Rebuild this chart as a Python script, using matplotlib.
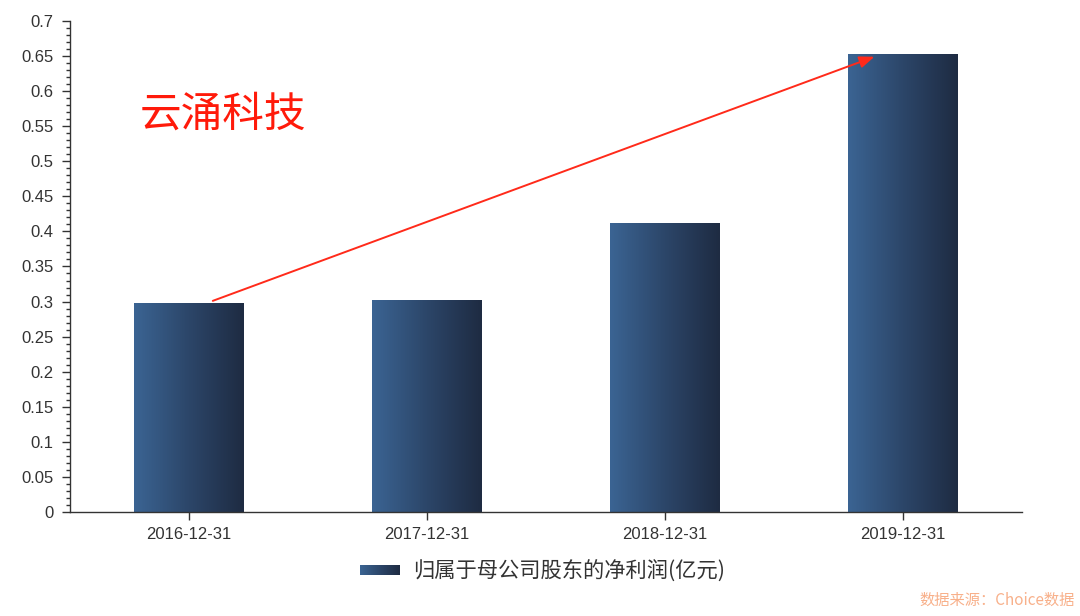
import numpy as np
import matplotlib
matplotlib.use("Agg")
import matplotlib.pyplot as plt
from matplotlib.colors import LinearSegmentedColormap
from matplotlib.ticker import MultipleLocator

plt.rcParams["font.family"] = ["Liberation Sans", "Noto Sans CJK SC", "DejaVu Sans"]

## data ##
dates = ["2016-12-31", "2017-12-31", "2018-12-31", "2019-12-31"]
profit = [0.297, 0.301, 0.411, 0.652]  # 归属于母公司股东的净利润(亿元)
series_name = "归属于母公司股东的净利润(亿元)"
company = "云涌科技"
source = "数据来源：Choice数据"

bar_w = 0.46
grad = LinearSegmentedColormap.from_list("bar", ["#3b6493", "#2c4669", "#1e2b42"])
gradient = np.linspace(0, 1, 256).reshape(1, -1)

fig = plt.figure(figsize=(10.8, 6.16), dpi=100)
ax = fig.add_axes([0.0648, 0.1688, 0.8815, 0.7972])

x = np.arange(len(dates))
bars = ax.bar(x, profit, width=bar_w, color="none", edgecolor="none", zorder=2)
for b in bars:
    x0, y0 = b.get_x(), b.get_y()
    ax.imshow(gradient, cmap=grad, aspect="auto", zorder=2, interpolation="bilinear",
              extent=(x0, x0 + b.get_width(), y0, y0 + b.get_height()))

ax.set_xlim(-0.5, len(dates) - 0.5)
ax.set_ylim(0, 0.7)
ax.set_xticks(x)
ax.set_xticklabels(dates)
ax.yaxis.set_major_locator(MultipleLocator(0.05))
ax.yaxis.set_minor_locator(MultipleLocator(0.01))
ax.set_yticklabels(["0" if abs(v) < 1e-9 else ("%g" % round(v, 2)) for v in ax.get_yticks()])
ax.tick_params(axis="y", which="major", length=6, width=1, color="#333333",
               labelsize=12, labelcolor="#333333", pad=6)
ax.tick_params(axis="y", which="minor", length=3, width=1, color="#333333")
ax.tick_params(axis="x", length=6, width=1, color="#333333",
               labelsize=12, labelcolor="#333333", pad=5)
for s in ["top", "right"]:
    ax.spines[s].set_visible(False)
for s in ["left", "bottom"]:
    ax.spines[s].set_color("#333333")
    ax.spines[s].set_linewidth(1)

# red trend arrow from first bar to last bar
ax.annotate("", xy=(x[-1] - 0.12, profit[-1] - 0.003), xytext=(x[0] + 0.1, profit[0] + 0.004),
            arrowprops=dict(arrowstyle="-|>,head_length=0.9,head_width=0.35",
                            color="#ff2a1a", lw=1.4, shrinkA=0, shrinkB=0), zorder=4)

fig.text(140 / 1080, 1 - 115 / 616, company, fontsize=30,
         color="#ff1a0a", family=["Noto Sans CJK SC", "DejaVu Sans"], va="center")

# legend
lax = fig.add_axes([360 / 1080, 1 - 575 / 616, 40 / 1080, 10 / 616])
lax.imshow(gradient, cmap=grad, aspect="auto")
lax.axis("off")
fig.text(413 / 1080, 1 - 571 / 616, series_name, fontsize=15.3, color="#333333",
         family=["Noto Sans CJK SC", "DejaVu Sans"], va="center")

fig.text(0.995, 0.012, source, fontsize=11, color="#f8b08a", ha="right", va="bottom",
         family=["Noto Sans CJK SC", "DejaVu Sans"])

fig.savefig("out.png", dpi=100)
